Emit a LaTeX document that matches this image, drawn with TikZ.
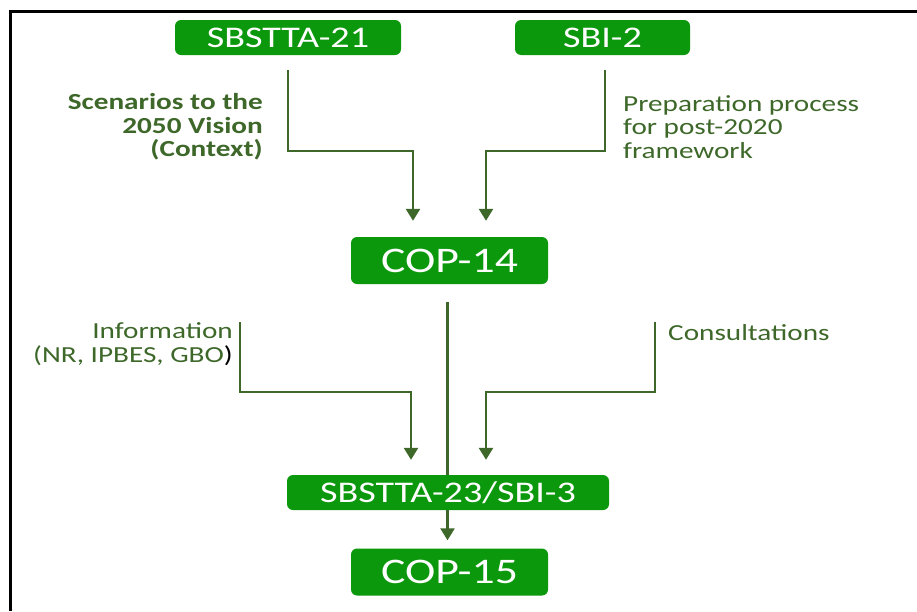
\documentclass[tikz,border=0pt]{standalone}
\usepackage{fontspec}
\setmainfont[FakeStretch=1.27]{Carlito}
\usepackage{tikz}
\usetikzlibrary{arrows.meta}
\definecolor{boxgreen}{RGB}{12,152,12}
\definecolor{linegreen}{RGB}{62,104,42}
\tikzset{meet/.style={
    fill=boxgreen,
    text=white,
    rounded corners=6pt,
    inner sep=0pt}}
\tikzset{conn/.style={
    -{Triangle[width=14pt,length=12pt]},
    draw=linegreen,
    line width=2.5pt}}
\tikzset{lbl/.style={
    text=linegreen,
    inner sep=0pt,
    font=\fontsize{23}{23.5}\selectfont}}

\begin{document}
\begin{tikzpicture}[x=1pt,y=-1pt]
\useasboundingbox (0,0) rectangle (917,611);
  % cadre
\draw[line width=3pt] (917,11) -- (10,11) -- (10,611);

  % reunions
\node[meet, minimum width=226pt, minimum height=35pt,
  font=\fontsize{30}{30}\selectfont] (s21) at (288,37.5) {SBSTTA-21};
\node[meet, minimum width=175pt, minimum height=35pt,
  font=\fontsize{30}{30}\selectfont] (sbi2) at (602.5,37.5) {SBI-2};
\node[meet, minimum width=197pt, minimum height=47pt,
  font=\fontsize{36}{36}\selectfont] (cop14) at (449.5,260.5) {COP-14};
\node[meet, minimum width=197pt, minimum height=47pt,
  font=\fontsize{36}{36}\selectfont] (cop15) at (449.5,572) {COP-15};

  % ligne centrale, sous la boite SBSTTA-23
\draw[conn] ([xshift=-2pt,yshift=-18pt]cop14.south) -- ([xshift=-2pt,yshift=8pt]cop15.north);
\node[meet, minimum width=322pt, minimum height=35pt,
  font=\fontsize{30}{30}\selectfont] (sb3) at (448,492.5) {SBSTTA-23/SBI-3};

  % textes
\node[lbl, font=\fontsize{23}{23.5}\selectfont\bfseries, align=right, anchor=east] (scen) at (263,127)
  {Scenarios to the\\2050 Vision\\(Context)};
\node[lbl, align=left, anchor=west] (prep) at (623,127)
  {Preparation process\\for post-2020\\framework};
\node[lbl, align=right, anchor=east] (info) at (233,344)
  {Information\\(NR, IPBES, GBO\textcolor{black}{)}};
\node[lbl, anchor=west] (cons) at (668,333) {Consultations};

\coordinate (infotop) at (240,322);
\coordinate (constop) at (655,322);

  % fleches
\draw[conn] ([yshift=-15pt]s21.south) |- ([xshift=-36.5pt,yshift=86pt]cop14.north)
  -- ([xshift=-36.5pt,yshift=16pt]cop14.north);
\draw[conn] ([xshift=2.5pt,yshift=-15pt]sbi2.south) |- ([xshift=36.5pt,yshift=86pt]cop14.north)
  -- ([xshift=36.5pt,yshift=16pt]cop14.north);
\draw[conn] (infotop) |- ([xshift=-37pt,yshift=83pt]sb3.north)
  -- ([xshift=-37pt,yshift=15pt]sb3.north);
\draw[conn] (constop) |- ([xshift=38pt,yshift=83pt]sb3.north)
  -- ([xshift=38pt,yshift=15pt]sb3.north);
\end{tikzpicture}
\end{document}
